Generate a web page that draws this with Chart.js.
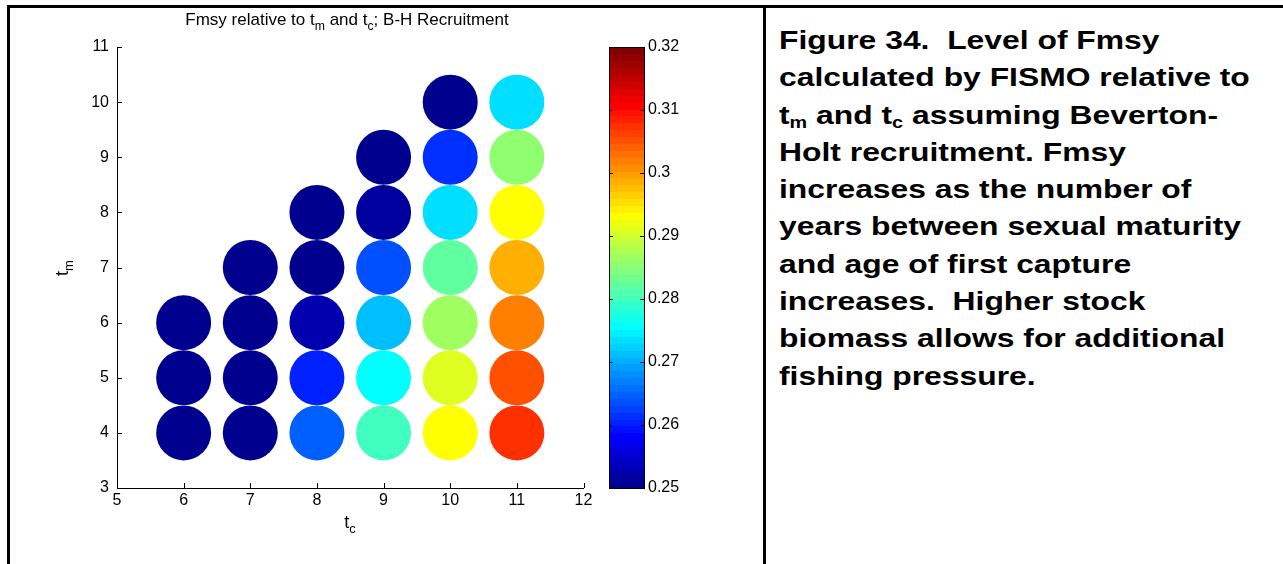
<!DOCTYPE html>
<html><head><meta charset="utf-8">
<script src="https://cdn.jsdelivr.net/npm/chart.js@4"></script>
<style>
html,body{margin:0;padding:0;background:#fff;}
#wrap{position:relative;width:1283px;height:564px;overflow:hidden;background:#fff;font-family:'Liberation Sans',Arial,sans-serif;color:#000;}
.ln{position:absolute;background:#000;z-index:5;}
#main{position:absolute;left:0;top:0;}
#cbar{position:absolute;left:600px;top:0;}
.lbl{position:absolute;white-space:nowrap;}
.lbl sub{font-size:72%;vertical-align:-0.4em;line-height:0;}
#caption{position:absolute;left:779px;top:22px;font-weight:bold;font-size:26px;line-height:37.3px;white-space:nowrap;transform:scaleX(1.225);transform-origin:0 0;}
#caption sub{font-size:62%;vertical-align:-0.25em;line-height:0;}
</style></head>
<body><div id="wrap">
<canvas id="main" width="611" height="564"></canvas>
<canvas id="cbar" width="120" height="564"></canvas>
<div class="ln" style="left:7px;top:5px;width:1276px;height:3px;"></div>
<div class="ln" style="left:7px;top:5px;width:3px;height:559px;"></div>
<div class="ln" style="left:763px;top:5px;width:3px;height:559px;"></div>
<div class="lbl" id="title" style="left:147px;top:10px;width:400px;text-align:center;font-size:17px;">Fmsy relative to t<sub>m</sub> and t<sub>c</sub>; B-H Recruitment</div>
<div class="lbl" id="xlab" style="left:300px;top:512px;width:100px;text-align:center;font-size:18px;">t<sub>c</sub></div>
<div class="lbl" id="ylab" style="left:32px;top:257px;width:60px;height:22px;line-height:22px;text-align:center;font-size:18px;transform:rotate(-90deg);">t<sub>m</sub></div>
<div id="caption">Figure 34.&nbsp; Level of Fmsy<br>calculated by FISMO relative to<br>t<sub>m</sub> and t<sub>c</sub> assuming Beverton-<br>Holt recruitment. Fmsy<br>increases as the number of<br>years between sexual maturity<br>and age of first capture<br>increases.&nbsp; Higher stock<br>biomass allows for additional<br>fishing pressure.</div>
</div>
<script>
// ---- data ----
const tc = [6,6,6, 7,7,7,7, 8,8,8,8,8, 9,9,9,9,9,9, 10,10,10,10,10,10,10, 11,11,11,11,11,11,11];
const tm = [4,5,6, 4,5,6,7, 4,5,6,7,8, 4,5,6,7,8,9, 4,5,6,7,8,9,10, 4,5,6,7,8,9,10];
const fmsy = [
  0.2500,0.2500,0.2500,
  0.2500,0.2500,0.2500,0.2500,
  0.2648,0.2604,0.2527,0.2500,0.2500,
  0.2801,0.2757,0.2713,0.2637,0.2516,0.2500,
  0.2932,0.2905,0.2867,0.2823,0.2735,0.2615,0.2500,
  0.3074,0.3052,0.3019,0.2987,0.2932,0.2856,0.2735
];
const xTicks = [5,6,7,8,9,10,11,12];
const yTicks = [3,4,5,6,7,8,9,10,11];
const cTicks = [0.25,0.26,0.27,0.28,0.29,0.30,0.31,0.32];
const cMin = 0.25, cMax = 0.32, nColors = 64;

// MATLAB jet(64)
function jetU(k){ if(k<1||k>47) return 0; if(k<=16) return k/16; if(k<=31) return 1; return (48-k)/16; }
function jetColor(i){
  const j = i+1;
  const r = jetU(j-24), g = jetU(j-8), b = jetU(j+8);
  return 'rgb('+Math.round(r*255)+','+Math.round(g*255)+','+Math.round(b*255)+')';
}
function valueColor(v){
  let i = Math.floor((v-cMin)/(cMax-cMin)*nColors);
  i = Math.max(0, Math.min(nColors-1, i));
  return jetColor(i);
}

Chart.defaults.font.family = "'Liberation Sans', Arial, sans-serif";
Chart.defaults.color = '#000';

const inwardTicks = {
  id:'inwardTicks',
  afterDraw(chart){
    const ctx = chart.ctx, xs = chart.scales.x, ys = chart.scales.y;
    ctx.save(); ctx.strokeStyle='#000'; ctx.lineWidth=1;
    ctx.beginPath();
    xTicks.forEach(v=>{ const p=Math.round(xs.getPixelForValue(v))+0.5; ctx.moveTo(p, ys.bottom); ctx.lineTo(p, ys.bottom-5); });
    yTicks.forEach(v=>{ const p=Math.round(ys.getPixelForValue(v))+0.5; ctx.moveTo(xs.left, p); ctx.lineTo(xs.left+5, p); });
    ctx.stroke(); ctx.restore();
  }
};

new Chart(document.getElementById('main'), {
  type:'scatter',
  data:{ datasets:[{
    data: tc.map((x,k)=>({x:x, y:tm[k]})),
    pointRadius: 27.5, pointHoverRadius: 27.5, pointBorderWidth: 0,
    pointBackgroundColor: fmsy.map(valueColor),
    pointBorderColor: fmsy.map(valueColor),
    clip: false
  }]},
  options:{
    responsive:false, animation:false, events:[],
    layout:{ padding:{ left:0, right:17, top:47, bottom:46 } },
    plugins:{ legend:{display:false}, tooltip:{enabled:false}, title:{display:false} },
    scales:{
      x:{ type:'linear', min:5, max:12,
          afterBuildTicks(s){ s.ticks = xTicks.map(v=>({value:v})); },
          afterFit(s){ s.height = 30; },
          grid:{ display:false, drawTicks:false },
          border:{ display:true, color:'#000', width:1 },
          ticks:{ font:{size:16}, padding:3, color:'#000', maxRotation:0 } },
      y:{ type:'linear', min:3, max:11,
          afterBuildTicks(s){ s.ticks = yTicks.map(v=>({value:v})); },
          afterFit(s){ s.width = 117; },
          grid:{ display:false, drawTicks:false },
          border:{ display:true, color:'#000', width:1 },
          ticks:{ font:{size:16}, padding:8, color:'#000' } }
    }
  },
  plugins:[inwardTicks]
});

const colorBand = {
  id:'colorBand',
  beforeDatasetsDraw(chart){
    const ctx = chart.ctx, ys = chart.scales.y, a = chart.chartArea;
    ctx.save();
    for(let i=0;i<nColors;i++){
      const v0 = cMin + (cMax-cMin)*i/nColors, v1 = cMin + (cMax-cMin)*(i+1)/nColors;
      const p0 = ys.getPixelForValue(v0), p1 = ys.getPixelForValue(v1);
      ctx.fillStyle = jetColor(i);
      ctx.fillRect(a.left, Math.floor(p1), a.right-a.left, Math.ceil(p0)-Math.floor(p1));
    }
    ctx.strokeStyle='#000'; ctx.lineWidth=1;
    ctx.strokeRect(Math.round(a.left)+0.5, Math.round(a.top)+0.5, Math.round(a.right-a.left), Math.round(a.bottom-a.top));
    ctx.beginPath();
    cTicks.forEach(v=>{ const p=Math.round(ys.getPixelForValue(v))+0.5; ctx.moveTo(a.right, p); ctx.lineTo(a.right-4, p); ctx.moveTo(a.left, p); ctx.lineTo(a.left+4, p); });
    ctx.stroke();
    ctx.restore();
  }
};

new Chart(document.getElementById('cbar'), {
  type:'scatter',
  data:{ datasets:[{ data:[] }] },
  options:{
    responsive:false, animation:false, events:[],
    layout:{ padding:{ left:9, right:0, top:47, bottom:76 } },
    plugins:{ legend:{display:false}, tooltip:{enabled:false} },
    scales:{
      x:{ type:'linear', min:0, max:1, display:false },
      y:{ type:'linear', position:'right', min:cMin, max:cMax,
          afterBuildTicks(s){ s.ticks = cTicks.map(v=>({value:v})); },
          afterFit(s){ s.width = 76; },
          grid:{ display:false, drawTicks:false },
          border:{ display:false },
          ticks:{ font:{size:16}, padding:4, color:'#000',
                  callback(v){ return String(+v.toFixed(2)); } } }
    }
  },
  plugins:[colorBand]
});
</script>
</body></html>
